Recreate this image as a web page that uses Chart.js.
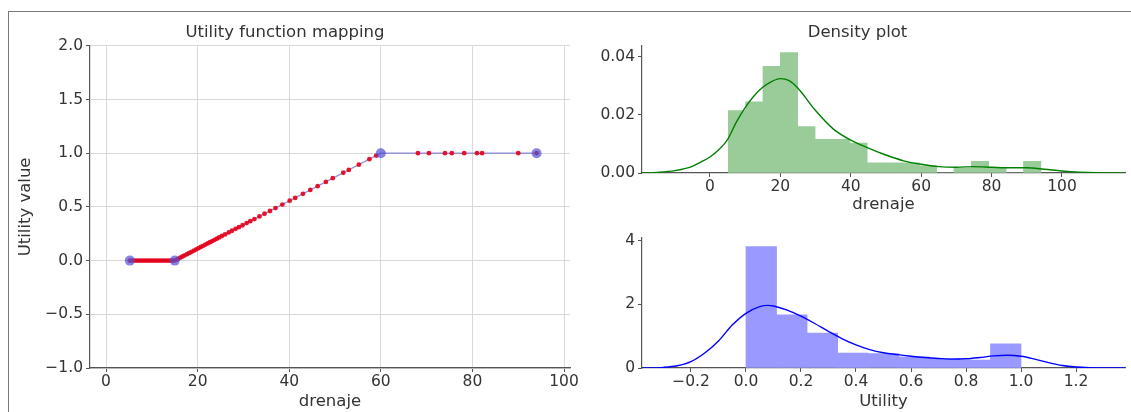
<!DOCTYPE html>
<html lang="en">
<head>
<meta charset="UTF-8">
<title>Utility function mapping</title>
<script src="https://cdn.jsdelivr.net/npm/chart.js"></script>
<style>
    body {
        margin: 0;
        background: #fff;
        width: 1131px;
        height: 412px;
        overflow: hidden;
        position: relative;
        font-family: 'DejaVu Sans', sans-serif;
    }
    #frame {
        position: absolute;
        left: 8px;
        top: 11px;
        width: 1200px;
        height: 500px;
        border-top: 1.5px solid #7a7a7a;
        border-left: 1.5px solid #7a7a7a;
    }
    canvas { position: absolute; }
    #mapChart { left: 0; top: 0; }
    #drenajeChart { left: 590px; top: 0; }
    #utilityChart { left: 590px; top: 215px; }
</style>
</head>
<body>

<div id="frame"></div>
<canvas id="mapChart" width="600" height="412"></canvas>
<canvas id="drenajeChart" width="541" height="215"></canvas>
<canvas id="utilityChart" width="541" height="197"></canvas>

<script>
    // utility function breakpoints (blue)
    const breakX = [5.2, 15, 60, 94];
    const breakY = [0, 0, 1, 1];

    // observed drenaje values and their utility (red dots)
    const drenaje = [5.2, 5.7, 6.2, 6.7, 7.2, 7.7, 8.2, 8.7, 9.2, 9.7, 10.2, 10.7, 11.2, 11.7, 12.2, 12.7, 13.2, 13.7, 14.2, 14.7,
        15.2, 15.7, 16.2, 16.7, 17.2, 17.7, 18.2, 18.7, 19.2, 19.7, 20.2, 20.7, 21.2, 21.7, 22.2, 22.7, 23.2, 23.7, 24.2, 24.7,
        25.3, 26.0, 26.8, 27.5, 28.3, 29.0, 29.8, 30.7, 31.5, 32.4, 33.5, 34.6, 35.8, 37.0, 38.5, 40.1, 41.3, 43.0, 44.6, 46.2,
        48.0, 49.5, 51.8, 53.0, 55.2, 57.5, 59.0,
        68.1, 70.5, 74.0, 75.5, 78.2, 81.0, 82.1, 90.0, 94.0];
    const utility = [0, 0, 0, 0, 0, 0, 0, 0, 0, 0, 0, 0, 0, 0, 0, 0, 0, 0, 0, 0,
        0.004, 0.016, 0.027, 0.038, 0.049, 0.06, 0.071, 0.082, 0.093, 0.104, 0.116, 0.127, 0.138, 0.149, 0.16, 0.171, 0.182, 0.193, 0.204, 0.216,
        0.229, 0.244, 0.262, 0.278, 0.296, 0.311, 0.329, 0.349, 0.367, 0.387, 0.411, 0.436, 0.462, 0.489, 0.522, 0.558, 0.584, 0.622, 0.658, 0.693,
        0.733, 0.767, 0.818, 0.844, 0.893, 0.944, 0.978,
        1, 1, 1, 1, 1, 1, 1, 1, 1];

    // drenaje histogram (density) and kde
    const drenajeBins = [7.67, 12.6, 17.53, 22.47, 27.4, 32.33, 37.27, 42.2, 47.13, 52.07, 57.0, 61.93, 66.87, 71.8, 76.73, 81.67, 86.6, 91.53];
    const drenajeHist = [0.0215, 0.0245, 0.0367, 0.0415, 0.016, 0.0116, 0.0116, 0.0103, 0.0035, 0.0035, 0.0035, 0.0025, 0, 0.0017, 0.004, 0.0017, 0, 0.004];
    const drenajeKdeX = [-19.3, -15, -10, -5, -2.5, 0, 2.5, 5, 7.5, 10, 12.5, 15, 17.5, 20, 22.5, 25, 30, 35, 40, 45, 50, 55, 60, 65, 70, 75, 80, 85, 90, 95, 100, 105, 110, 117.9];
    const drenajeKdeY = [0, 0.0002, 0.0008, 0.0023, 0.0038, 0.0055, 0.008, 0.0115, 0.0175, 0.0225, 0.0265, 0.0295, 0.0315, 0.0325, 0.0318, 0.0292, 0.0215, 0.0152, 0.0113, 0.0086, 0.0062, 0.0042, 0.003, 0.0022, 0.002, 0.0022, 0.002, 0.0018, 0.0018, 0.0013, 0.0007, 0.0003, 0.0001, 0];

    // utility histogram (density) and kde
    const utilityBins = [0.0556, 0.1667, 0.2778, 0.3889, 0.5, 0.6111, 0.7222, 0.8333, 0.9444];
    const utilityHist = [3.82, 1.67, 1.1, 0.47, 0.45, 0.35, 0.3, 0.25, 0.76];
    const utilityKdeX = [-0.378, -0.3, -0.25, -0.2, -0.15, -0.1, -0.05, 0, 0.05, 0.08, 0.1, 0.15, 0.2, 0.25, 0.3, 0.35, 0.4, 0.45, 0.5, 0.55, 0.6, 0.65, 0.7, 0.75, 0.8, 0.85, 0.9, 0.95, 1.0, 1.05, 1.1, 1.15, 1.2, 1.25, 1.378];
    const utilityKdeY = [0, 0.02, 0.07, 0.2, 0.47, 0.85, 1.35, 1.72, 1.93, 1.97, 1.95, 1.82, 1.63, 1.4, 1.15, 0.92, 0.73, 0.58, 0.48, 0.42, 0.37, 0.33, 0.3, 0.28, 0.29, 0.33, 0.38, 0.4, 0.37, 0.28, 0.17, 0.08, 0.03, 0.01, 0];

    Chart.defaults.font.family = "'DejaVu Sans', sans-serif";
    Chart.defaults.color = '#333';

    const pts = (xs, ys) => xs.map((x, i) => ({ x: x, y: ys[i] }));

    function tickFmt(digits) {
        return function(value) {
            if (Math.abs(value) < 1e-9) value = 0;
            return value.toFixed(digits).replace('-', '\u2212');
        };
    }

    const tickFont = { size: 15.5 };
    const labelFont = { size: 16.5 };
    const spine = { color: '#555', width: 1.2 };

    const baseOptions = {
        responsive: false,
        animation: false,
        devicePixelRatio: 1,
        events: []
    };

    // left: utility function mapping
    new Chart(document.getElementById('mapChart'), {
        type: 'line',
        data: {
            datasets: [{
                // function line, drawn under everything
                data: pts(breakX, breakY),
                borderColor: 'rgba(70,70,200,0.6)',
                borderWidth: 1.3,
                pointRadius: 0,
                order: 3
            }, {
                data: pts(drenaje, utility),
                showLine: false,
                pointRadius: 2.4,
                pointBorderWidth: 0,
                pointBackgroundColor: 'rgba(228,0,25,0.9)',
                order: 2
            }, {
                // breakpoint markers on top
                data: pts(breakX, breakY),
                showLine: false,
                pointRadius: 5,
                pointBorderWidth: 0,
                pointBackgroundColor: 'rgba(80,80,215,0.7)',
                order: 1
            }]
        },
        options: Object.assign({}, baseOptions, {
            layout: { padding: { left: 0, right: 30, top: 0, bottom: 0 } },
            plugins: {
                legend: { display: false },
                tooltip: { enabled: false },
                title: {
                    display: true,
                    text: 'Utility function mapping',
                    color: '#333',
                    font: { size: 16.5, weight: 'normal' },
                    padding: { top: 23, bottom: 3 }
                }
            },
            scales: {
                x: {
                    type: 'linear',
                    min: -3.5,
                    max: 101.3,
                    afterFit: s => { s.height = 44; },
                    ticks: { stepSize: 20, includeBounds: false, padding: 1, maxRotation: 0, font: tickFont, callback: tickFmt(0) },
                    grid: { color: '#d9d9d9', tickColor: '#555', tickLength: 4 },
                    border: spine,
                    title: { display: true, text: 'drenaje', font: labelFont, padding: { top: 0, bottom: 0 } }
                },
                y: {
                    type: 'linear',
                    min: -1,
                    max: 2,
                    afterFit: s => { s.width = 90; },
                    ticks: { stepSize: 0.5, includeBounds: false, padding: 3, font: tickFont, callback: tickFmt(1) },
                    grid: { color: '#d9d9d9', tickColor: '#555', tickLength: 4 },
                    border: spine,
                    title: { display: true, text: 'Utility value', font: labelFont, padding: { top: 16, bottom: 0 } }
                }
            }
        })
    });

    // top right: density plot of drenaje
    new Chart(document.getElementById('drenajeChart'), {
        type: 'bar',
        data: {
            datasets: [{
                type: 'bar',
                data: pts(drenajeBins, drenajeHist),
                backgroundColor: 'rgb(153,204,153)',
                borderWidth: 0,
                barPercentage: 1,
                categoryPercentage: 1,
                order: 2
            }, {
                type: 'line',
                data: pts(drenajeKdeX, drenajeKdeY),
                borderColor: 'rgb(0,128,0)',
                borderWidth: 1.4,
                pointRadius: 0,
                fill: false,
                cubicInterpolationMode: 'monotone',
                order: 1
            }]
        },
        options: Object.assign({}, baseOptions, {
            layout: { padding: { left: 0, right: 6, top: 0, bottom: 0 } },
            plugins: {
                legend: { display: false },
                tooltip: { enabled: false },
                title: {
                    display: true,
                    text: 'Density plot',
                    color: '#333',
                    font: { size: 16.5, weight: 'normal' },
                    padding: { top: 23, bottom: 3 }
                }
            },
            scales: {
                x: {
                    type: 'linear',
                    offset: false,
                    min: -19.3,
                    max: 117.9,
                    afterFit: s => { s.height = 42; },
                    ticks: { stepSize: 20, includeBounds: false, padding: 1, maxRotation: 0, font: tickFont, callback: tickFmt(0) },
                    grid: { offset: false, drawOnChartArea: false, tickColor: '#555', tickLength: 4 },
                    border: spine,
                    title: { display: true, text: 'drenaje', font: labelFont, padding: { top: 0, bottom: 0 } }
                },
                y: {
                    type: 'linear',
                    min: 0,
                    max: 0.0438,
                    afterFit: s => { s.width = 52; },
                    ticks: { stepSize: 0.02, includeBounds: false, padding: 3, font: tickFont, callback: tickFmt(2) },
                    grid: { drawOnChartArea: false, tickColor: '#555', tickLength: 4 },
                    border: spine
                }
            }
        })
    });

    // bottom right: density plot of utility
    new Chart(document.getElementById('utilityChart'), {
        type: 'bar',
        data: {
            datasets: [{
                type: 'bar',
                data: pts(utilityBins, utilityHist),
                backgroundColor: 'rgb(153,153,255)',
                borderWidth: 0,
                barPercentage: 1,
                categoryPercentage: 1,
                order: 2
            }, {
                type: 'line',
                data: pts(utilityKdeX, utilityKdeY),
                borderColor: 'rgb(0,0,255)',
                borderWidth: 1.4,
                pointRadius: 0,
                fill: false,
                cubicInterpolationMode: 'monotone',
                order: 1
            }]
        },
        options: Object.assign({}, baseOptions, {
            layout: { padding: { left: 0, right: 6, top: 23, bottom: 0 } },
            plugins: {
                legend: { display: false },
                tooltip: { enabled: false }
            },
            scales: {
                x: {
                    type: 'linear',
                    offset: false,
                    min: -0.378,
                    max: 1.378,
                    afterFit: s => { s.height = 44; },
                    ticks: { stepSize: 0.2, includeBounds: false, padding: 1, maxRotation: 0, font: tickFont, callback: tickFmt(1) },
                    grid: { offset: false, drawOnChartArea: false, tickColor: '#555', tickLength: 4 },
                    border: spine,
                    title: { display: true, text: 'Utility', font: labelFont, padding: { top: 0, bottom: 0 } }
                },
                y: {
                    type: 'linear',
                    min: 0,
                    max: 4.09,
                    afterFit: s => { s.width = 52; },
                    ticks: { stepSize: 2, includeBounds: false, padding: 3, font: tickFont, callback: tickFmt(0) },
                    grid: { drawOnChartArea: false, tickColor: '#555', tickLength: 4 },
                    border: spine
                }
            }
        })
    });
</script>

</body>
</html>
